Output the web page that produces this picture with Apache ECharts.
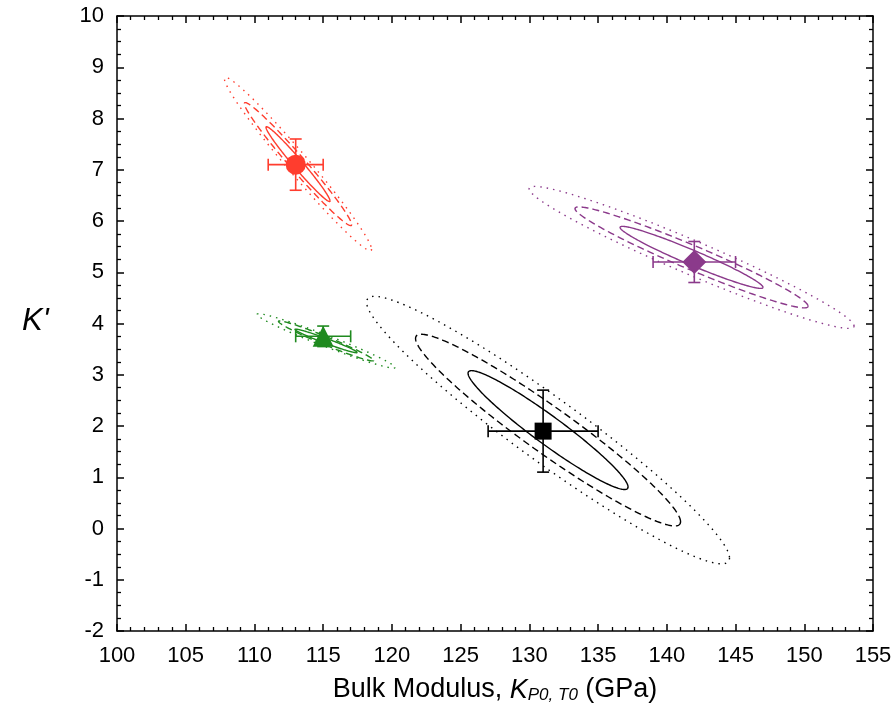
<!DOCTYPE html>
<html><head><meta charset="utf-8">
<script src="https://cdn.jsdelivr.net/npm/echarts@6/dist/echarts.min.js"></script>
<style>html,body{margin:0;padding:0;background:#fff}#c{width:895px;height:724px}</style>
</head><body><div id="c"></div>
<script>
// ---- data ----
const pointX = [113, 115, 131, 142];
const pointY = [7.1, 3.75, 1.9, 5.2];
const errX = [2, 2, 4, 3];
const errY = [0.5, 0.2, 0.8, 0.4];
const ellCX = [113.17, 115.21, 131.36, 141.80];
const ellCY = [7.11, 3.66, 1.92, 5.29];
const ellRho = [-0.982, -0.975, -0.956, -0.966];
const solidHalfX = [2.33, 2.26, 5.82, 5.20];
const solidHalfY = [0.73, 0.23, 1.16, 0.605];
const dashHalfX = [3.9, 3.46, 9.64, 8.48];
const dashHalfY = [1.2, 0.39, 1.87, 0.985];
const dotHalfX = [5.35, 5.02, 13.2, 11.82];
const dotHalfY = [1.69, 0.53, 2.61, 1.385];

// ---- styles ----
const colors = ['#ff3d2e', '#1f8a1f', '#000000', '#8b3a8b'];
const symbols = ['circle', 'triangle', 'rect', 'diamond'];
const symbolSizes = [20, [21, 21], 17, [24, 24]];
const FONT = 'Liberation Sans, Arial, sans-serif';

function ellData(hx, hy) {
  return pointX.map((_, i) => [ellCX[i], ellCY[i], hx[i], hy[i], ellRho[i], i]);
}
function ellipseRender(dash) {
  return function (params, api) {
    const cx = api.value(0), cy = api.value(1), hx = api.value(2), hy = api.value(3), rho = api.value(4);
    const c = colors[api.value(5)];
    const phi = Math.acos(rho);
    const pts = [];
    const N = 240;
    for (let k = 0; k <= N; k++) {
      const t = k / N * 2 * Math.PI;
      pts.push(api.coord([cx + hx * Math.cos(t), cy + hy * Math.cos(t + phi)]));
    }
    return { type: 'polyline', shape: { points: pts },
      style: { stroke: c, fill: null, lineWidth: 1.4, lineDash: dash } };
  };
}
function ellSeries(hx, hy, dash) {
  return { type: 'custom', coordinateSystem: 'cartesian2d', silent: true, z: 2,
    encode: { x: 0, y: 1 }, data: ellData(hx, hy), renderItem: ellipseRender(dash) };
}

const errSeries = {
  type: 'custom', coordinateSystem: 'cartesian2d', silent: true, z: 3,
  encode: { x: 0, y: 1 },
  data: pointX.map((x, i) => [x, pointY[i], errX[i], errY[i], i]),
  renderItem: function (params, api) {
    const x = api.value(0), y = api.value(1), ex = api.value(2), ey = api.value(3);
    const c = colors[api.value(4)];
    const l = api.coord([x - ex, y]), r = api.coord([x + ex, y]);
    const t = api.coord([x, y + ey]), b = api.coord([x, y - ey]);
    const cap = 6;
    const st = { stroke: c, lineWidth: 1.6 };
    const ln = (x1, y1, x2, y2) => ({ type: 'line', shape: { x1, y1, x2, y2 }, style: st });
    return { type: 'group', children: [
      ln(l[0], l[1], r[0], r[1]), ln(t[0], t[1], b[0], b[1]),
      ln(l[0], l[1] - cap, l[0], l[1] + cap), ln(r[0], r[1] - cap, r[0], r[1] + cap),
      ln(t[0] - cap, t[1], t[0] + cap, t[1]), ln(b[0] - cap, b[1], b[0] + cap, b[1])
    ] };
  }
};

const markerSeries = {
  type: 'scatter', z: 4, silent: true,
  data: pointX.map((x, i) => ({ value: [x, pointY[i]], symbol: symbols[i], symbolSize: symbolSizes[i],
    itemStyle: { color: colors[i], opacity: 1 } }))
};

function xAx(pos, labels) {
  return { type: 'value', min: 100, max: 155, interval: 5, position: pos,
    axisLine: { onZero: false, lineStyle: { color: '#000', width: 1.5 } },
    axisTick: { inside: true, length: 7, lineStyle: { color: '#000', width: 1.5 } },
    minorTick: { show: true, splitNumber: 5, length: 4, lineStyle: { color: '#000', width: 1.3 } },
    splitLine: { show: false }, minorSplitLine: { show: false },
    axisLabel: { show: labels, color: '#000', fontSize: 22, fontFamily: FONT, margin: 14 } };
}
function yAx(pos, labels) {
  return { type: 'value', min: -2, max: 10, interval: 1, position: pos,
    axisLine: { onZero: false, lineStyle: { color: '#000', width: 1.5 } },
    axisTick: { inside: true, length: 7, lineStyle: { color: '#000', width: 1.5 } },
    minorTick: { show: true, splitNumber: 4, length: 4, lineStyle: { color: '#000', width: 1.3 } },
    splitLine: { show: false }, minorSplitLine: { show: false },
    axisLabel: { show: labels, color: '#000', fontSize: 22, fontFamily: FONT, margin: 13 } };
}

const xMain = xAx('bottom', true);
xMain.name = '{n|Bulk Modulus, }{k|K}{s|P0, T0}{n| (GPa)}';
xMain.nameLocation = 'middle';
xMain.nameGap = 45;
xMain.nameTextStyle = { rich: {
  n: { fontSize: 27, fontFamily: FONT, color: '#000', lineHeight: 28 },
  k: { fontSize: 27, fontFamily: FONT, fontStyle: 'italic', color: '#000', lineHeight: 28 },
  s: { fontSize: 17, fontFamily: FONT, fontStyle: 'italic', color: '#000', lineHeight: 10, verticalAlign: 'bottom' }
} };

const chart = echarts.init(document.getElementById('c'), null, { renderer: 'canvas' });
chart.setOption({
  animation: false,
  backgroundColor: '#fff',
  grid: { left: 117, top: 16, width: 756, height: 615, containLabel: false },
  xAxis: [xMain, xAx('top', false)],
  yAxis: [yAx('left', true), yAx('right', false)],
  graphic: [{ type: 'text', left: 22, top: 306,
    style: { text: "K'", fontSize: 31, fontStyle: 'italic', fontFamily: FONT, fill: '#000' } }],
  series: [
    ellSeries(solidHalfX, solidHalfY, null),
    ellSeries(dashHalfX, dashHalfY, [7, 4]),
    ellSeries(dotHalfX, dotHalfY, [1.5, 5]),
    errSeries,
    markerSeries
  ]
});
</script></body></html>
